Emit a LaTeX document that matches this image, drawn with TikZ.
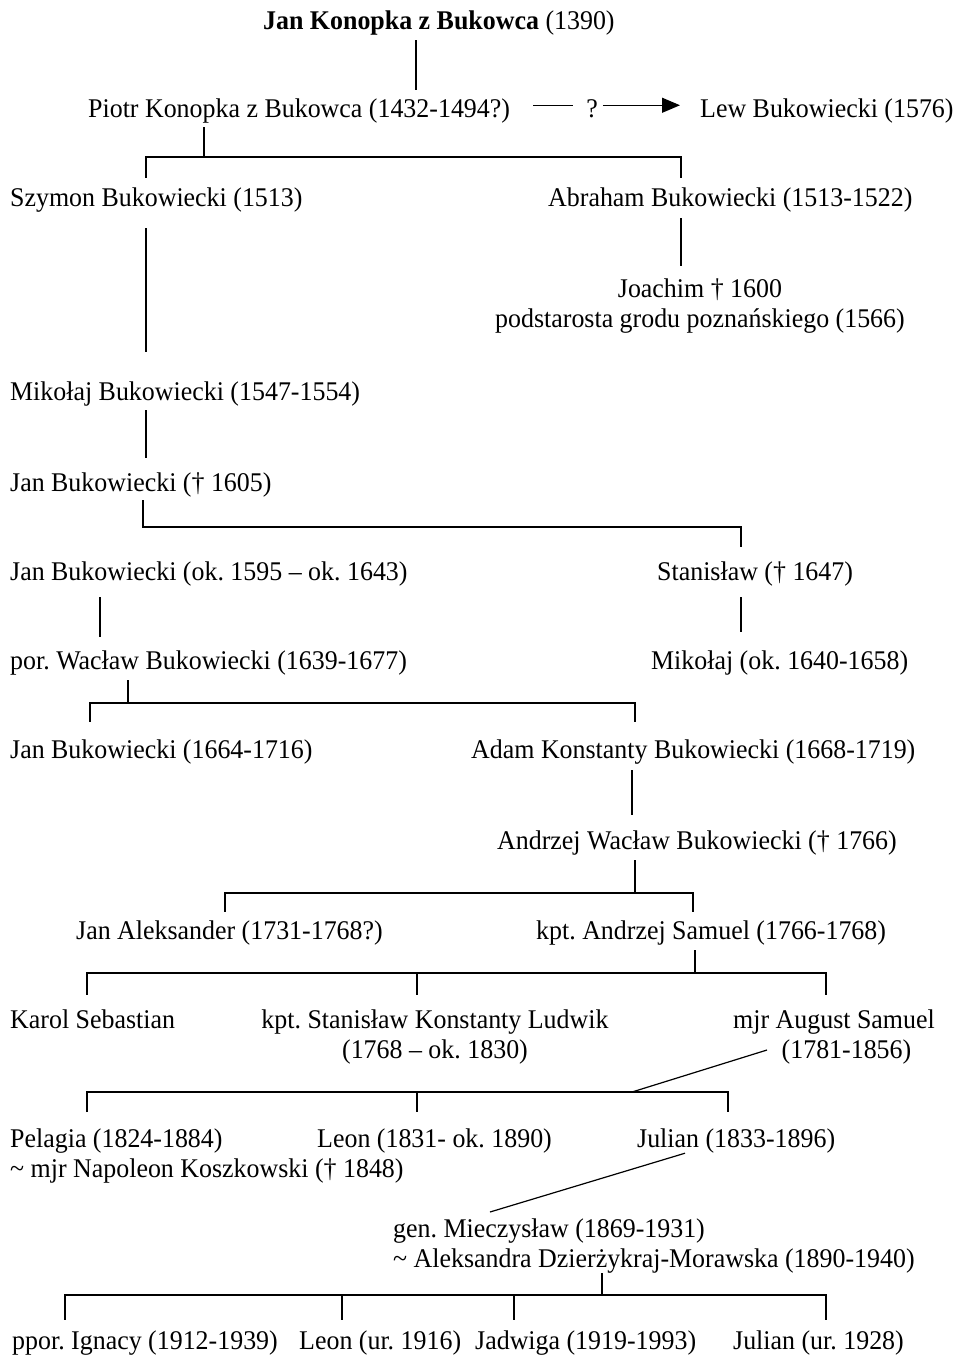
\documentclass[tikz,border=0pt]{standalone}
\usepackage{fontspec}
\setmainfont{Liberation Serif}[FakeStretch=0.96]
\usetikzlibrary{arrows.meta,positioning,calc}
\newcommand{\treefont}{\fontsize{27}{30}\selectfont\frenchspacing}

\begin{document}
\begin{tikzpicture}[
  x=1pt,y=-1pt,
  person/.style={inner sep=0pt,anchor=base west,text height=19pt,text depth=6pt,font=\treefont},
  couple/.style={inner sep=0pt,anchor=base west,align=left,font=\treefont},
  line/.style={line width=1.2pt},
  arrow/.style={line width=1.2pt,-{Triangle[length=18pt,width=15pt]}}
]
\useasboundingbox (0,0) rectangle (958,1361);
\node[person] (jan0) at (263,29) {\textbf{Jan Konopka z Bukowca} (1390)};
\node[person] (piotr) at (88,117) {Piotr Konopka z Bukowca (1432-1494?)};
\node[person] (lew) at (700,117) {Lew Bukowiecki (1576)};
\node[inner sep=0pt,anchor=base,font=\treefont] (q) at (592,117) {?};
\node[person] (szymon) at (10,206) {Szymon Bukowiecki (1513)};
\node[person] (abraham) at (548,206) {Abraham Bukowiecki (1513-1522)};
\node[couple,anchor=base,align=center] (joachim) at (700,327) {Joachim † 1600\\podstarosta grodu poznańskiego (1566)};
\node[person] (mikolaj1) at (10,400) {Mikołaj Bukowiecki (1547-1554)};
\node[person] (jan1) at (10,491) {Jan Bukowiecki († 1605)};
\node[person] (jan2) at (10,580) {Jan Bukowiecki (ok. 1595 – ok. 1643)};
\node[person] (stanislaw) at (657,580) {Stanisław († 1647)};
\node[person] (waclaw) at (10,669) {por. Wacław Bukowiecki (1639-1677)};
\node[person] (mikolaj2) at (651,669) {Mikołaj (ok. 1640-1658)};
\node[person] (jan3) at (10,758) {Jan Bukowiecki (1664-1716)};
\node[person] (adam) at (471,758) {Adam Konstanty Bukowiecki (1668-1719)};
\node[person] (andrzej) at (497,849) {Andrzej Wacław Bukowiecki († 1766)};
\node[person] (janaleks) at (76,939) {Jan Aleksander (1731-1768?)};
\node[person] (samuel) at (536,939) {kpt. Andrzej Samuel (1766-1768)};
\node[person] (karol) at (10,1028) {Karol Sebastian};
\node[couple,anchor=base,align=center] (ludwik) at (435,1058) {kpt. Stanisław Konstanty Ludwik\\(1768 – ok. 1830)};
\node[couple,anchor=base,align=center] (august) at (834,1058) {mjr August Samuel\\\hspace*{25pt}(1781-1856)};
\node[couple] (pelagia) at (10,1177) {Pelagia (1824-1884)\\\textasciitilde{} mjr Napoleon Koszkowski († 1848)};
\node[person] (leon1) at (317,1147) {Leon (1831- ok. 1890)};
\node[person] (julian1) at (637,1147) {Julian (1833-1896)};
\node[couple] (mieczyslaw) at (393,1267) {gen. Mieczysław (1869-1931)\\\textasciitilde{} Aleksandra Dzierżykraj-Morawska (1890-1940)};
\node[person] (ignacy) at (12,1349) {ppor. Ignacy (1912-1939)};
\node[person] (leon2) at (299,1349) {Leon (ur. 1916)};
\node[person] (jadwiga) at (475,1349) {Jadwiga (1919-1993)};
\node[person] (julian2) at (733,1349) {Julian (ur. 1928)};

% bus points of the tree
\coordinate (qc) at ([yshift=3pt]q.center);
\coordinate (k0) at (416,0);
\coordinate (k1) at (100,0);
\coordinate (k2) at (632,0);
\coordinate (b1) at (204,157); \coordinate (b1l) at (146,157); \coordinate (b1r) at (681,157);
\coordinate (b2) at (143,527); \coordinate (b2r) at (741,527);
\coordinate (b3) at (128,703); \coordinate (b3l) at (90,703); \coordinate (b3r) at (635,703);
\coordinate (b4) at (635,893); \coordinate (b4l) at (225,893); \coordinate (b4r) at (693,893);
\coordinate (b5) at (695,973); \coordinate (b5l) at (87,973); \coordinate (b5m) at (417,973); \coordinate (b5r) at (826,973);
\coordinate (a1) at (767,1050);
\coordinate (b6) at (632,1092); \coordinate (b6l) at (87,1092); \coordinate (b6m) at (417,1092); \coordinate (b6r) at (728,1092);
\coordinate (m1) at (490,1212);
\coordinate (b7) at (602,1295); \coordinate (b7a) at (65,1295); \coordinate (b7b) at (342,1295);
\coordinate (b7c) at (514,1295); \coordinate (b7d) at (826,1295);

\draw[line,shorten <=5pt,shorten >=8pt] (jan0.south -| k0) -- (piotr.north -| k0);
\draw[line,shorten <=23pt,shorten >=13pt] (piotr.east |- qc) -- (qc -| q.west);
\draw[arrow,shorten <=5pt,shorten >=20pt] (qc -| q.east) -- (lew.west |- qc);
\draw[line,shorten <=4pt] (piotr.south -| b1) -- (b1);
\draw[line,shorten <=9pt,shorten >=9pt] (szymon.north -| b1l) -- (b1l) -- (b1r) -- (abraham.north -| b1r);
\draw[line,shorten <=6pt,shorten >=12pt] (abraham.south -| b1r) -- (joachim.north -| b1r);
\draw[line,shorten <=16pt,shorten >=29pt] (szymon.south -| b1l) -- (mikolaj1.north -| b1l);
\draw[line,shorten <=4pt,shorten >=14pt] (mikolaj1.south -| b1l) -- (jan1.north -| b1l);
\draw[line,shorten <=3pt,shorten >=14pt] (jan1.south -| b2) -- (b2) -- (b2r) -- (stanislaw.north -| b2r);
\draw[line,shorten <=11pt,shorten >=13pt] (jan2.south -| k1) -- (waclaw.north -| k1);
\draw[line,shorten <=11pt,shorten >=18pt] (stanislaw.south -| b2r) -- (mikolaj2.north -| b2r);
\draw[line,shorten <=5pt] (waclaw.south -| b3) -- (b3);
\draw[line,shorten <=17pt,shorten >=17pt] (jan3.north -| b3l) -- (b3l) -- (b3r) -- (adam.north -| b3r);
\draw[line,shorten <=6pt,shorten >=15pt] (adam.south -| k2) -- (andrzej.north -| k2);
\draw[line,shorten <=5pt] (andrzej.south -| b4) -- (b4);
\draw[line,shorten <=8pt,shorten >=8pt] (janaleks.north -| b4l) -- (b4l) -- (b4r) -- (samuel.north -| b4r);
\draw[line,shorten <=5pt] (samuel.south -| b5) -- (b5);
\draw[line,shorten <=14pt,shorten >=14pt] (karol.north -| b5l) -- (b5l) -- (b5r) -- (august.north -| b5r);
\draw[line,shorten >=14pt] (b5m) -- (ludwik.north -| b5m);
\draw[line] (a1) -- (b6);
\draw[line,shorten <=16pt,shorten >=16pt] (pelagia.north -| b6l) -- (b6l) -- (b6r) -- (julian1.north -| b6r);
\draw[line,shorten >=16pt] (b6m) -- (leon1.north -| b6m);
\draw[line] ([xshift=48pt]julian1.south west) -- (m1);
\draw[line] (mieczyslaw.south -| b7) -- (b7);
\draw[line,shorten <=10pt,shorten >=10pt] (ignacy.north -| b7a) -- (b7a) -- (b7d) -- (julian2.north -| b7d);
\draw[line,shorten >=10pt] (b7b) -- (leon2.north -| b7b);
\draw[line,shorten >=10pt] (b7c) -- (jadwiga.north -| b7c);
\end{tikzpicture}
\end{document}
